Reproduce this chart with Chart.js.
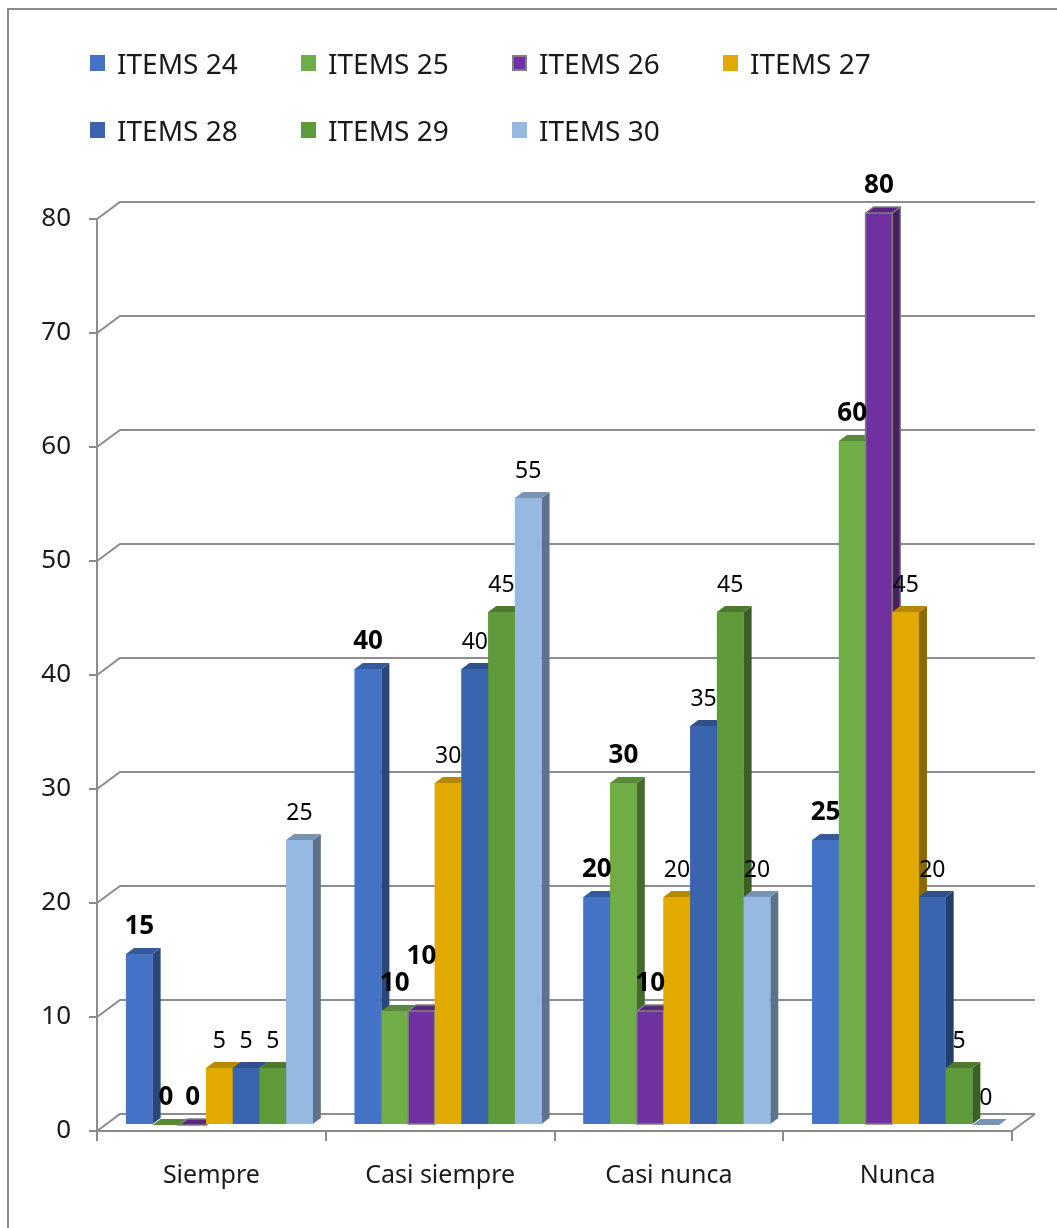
<!DOCTYPE html>
<html>
<head>
<meta charset="utf-8">
<script src="https://cdn.jsdelivr.net/npm/chart.js@4.4.1/dist/chart.umd.min.js"></script>
<style>
    html, body { margin: 0; padding: 0; background: #ffffff; }
    body { width: 1057px; height: 1228px; position: relative; overflow: hidden; font-family: "Noto Sans", sans-serif; }
    #frame { position: absolute; left: 7px; top: 8px; width: 1200px; height: 1400px; border: 2px solid #8c8c8c; box-sizing: border-box; }
    #chart { position: absolute; left: 0; top: 0; }
    #legend { position: absolute; left: 0; top: 0; width: 1057px; height: 180px; }
    .item { position: absolute; display: flex; align-items: center; font-size: 28px; color: #1a1a1a; white-space: nowrap; }
    .swatch { width: 15px; height: 16px; margin-right: 12px; box-sizing: border-box; }
</style>
</head>
<body>
<div id="frame"></div>
<canvas id="chart" width="1057" height="1228"></canvas>
<div id="legend"></div>
<script>
// Data
const categories = ["Siempre", "Casi siempre", "Casi nunca", "Nunca"];
const seriesNames = ["ITEMS 24", "ITEMS 25", "ITEMS 26", "ITEMS 27", "ITEMS 28", "ITEMS 29", "ITEMS 30"];
const items24 = [15, 40, 20, 25];
const items25 = [0, 10, 30, 60];
const items26 = [0, 10, 10, 80];
const items27 = [5, 30, 20, 45];
const items28 = [5, 40, 35, 20];
const items29 = [5, 45, 45, 5];
const items30 = [25, 55, 20, 0];
const yTicks = [0, 10, 20, 30, 40, 50, 60, 70, 80];

const seriesValues = [items24, items25, items26, items27, items28, items29, items30];
const seriesColors = ["#4472C4", "#70AD47", "#7030A0", "#E2AA00", "#3A64AE", "#5F9A3B", "#96B9E1"];
const boldLabels = [true, true, true, false, false, false, false];

// 3D look
const BAR_DX = 8, BAR_DY = 6;     // depth of each bar
const WALL_DX = 23, WALL_DY = 17; // offset of the back wall
const SHIFT_X = 8, SHIFT_Y = 6;   // bars sit a little behind the front plane
const LINE_COLOR = "#8c8c8c";
const FONT = "'Noto Sans', sans-serif";

function shade(hex, f) {
    const n = parseInt(hex.slice(1), 16);
    const r = Math.round(((n >> 16) & 255) * f);
    const g = Math.round(((n >> 8) & 255) * f);
    const b = Math.round((n & 255) * f);
    return `rgb(${r}, ${g}, ${b})`;
}

// HTML legend, four per row like the original
const legendEl = document.getElementById("legend");
seriesNames.forEach((name, i) => {
    const item = document.createElement("div");
    item.className = "item";
    item.style.left = (90 + (i % 4) * 211) + "px";
    item.style.top = (63 + Math.floor(i / 4) * 67 - 18) + "px";
    item.style.height = "36px";
    const sw = document.createElement("span");
    sw.className = "swatch";
    sw.style.background = seriesColors[i];
    if (i === 2) sw.style.border = "2px solid #7f7f7f";
    item.appendChild(sw);
    item.appendChild(document.createTextNode(name));
    legendEl.appendChild(item);
});

const bars3d = {
    id: "bars3d",
    beforeDatasetsDraw(chart) {
        const { ctx, chartArea: a, scales: { y } } = chart;
        // back wall grid with the diagonal joints to the front axis
        ctx.save();
        ctx.strokeStyle = LINE_COLOR;
        ctx.lineWidth = 2;
        yTicks.forEach(v => {
            const py = Math.round(y.getPixelForValue(v));
            ctx.beginPath();
            ctx.moveTo(a.left, py);
            ctx.lineTo(a.left + WALL_DX, py - WALL_DY);
            ctx.lineTo(a.right + WALL_DX, py - WALL_DY);
            ctx.stroke();
        });
        const p0 = Math.round(y.getPixelForValue(0));
        ctx.beginPath();
        ctx.moveTo(a.right, p0);
        ctx.lineTo(a.right + WALL_DX, p0 - WALL_DY);
        ctx.stroke();
        ctx.restore();

        ctx.save();
        ctx.translate(SHIFT_X, -SHIFT_Y);
    },
    afterDatasetsDraw(chart) {
        const ctx = chart.ctx;
        const datasets = chart.data.datasets;
        categories.forEach((cat, i) => {
            datasets.forEach((ds, d) => {
                const bar = chart.getDatasetMeta(d).data[i];
                const { x, y, base, width } = bar.getProps(["x", "y", "base", "width"], true);
                const l = x - width / 2, r = x + width / 2;
                const col = seriesColors[d];
                // side face
                ctx.fillStyle = shade(col, 0.62);
                ctx.beginPath();
                ctx.moveTo(r, y);
                ctx.lineTo(r + BAR_DX, y - BAR_DY);
                ctx.lineTo(r + BAR_DX, base - BAR_DY);
                ctx.lineTo(r, base);
                ctx.closePath();
                ctx.fill();
                // top face
                ctx.fillStyle = shade(col, 0.8);
                ctx.beginPath();
                ctx.moveTo(l, y);
                ctx.lineTo(l + BAR_DX, y - BAR_DY);
                ctx.lineTo(r + BAR_DX, y - BAR_DY);
                ctx.lineTo(r, y);
                ctx.closePath();
                ctx.fill();
                // front face
                ctx.fillStyle = col;
                ctx.fillRect(l, y, r - l, base - y);
                if (d === 2) {
                    ctx.strokeStyle = "#808080";
                    ctx.lineWidth = 1.5;
                    ctx.beginPath();
                    ctx.moveTo(l, y);
                    ctx.lineTo(l + BAR_DX, y - BAR_DY);
                    ctx.lineTo(r + BAR_DX, y - BAR_DY);
                    ctx.lineTo(r + BAR_DX, base - BAR_DY);
                    ctx.lineTo(r, base);
                    ctx.lineTo(l, base);
                    ctx.closePath();
                    ctx.moveTo(r, y);
                    ctx.lineTo(r + BAR_DX, y - BAR_DY);
                    ctx.moveTo(r, y);
                    ctx.lineTo(r, base);
                    ctx.moveTo(l, y);
                    ctx.lineTo(r, y);
                    ctx.stroke();
                }
            });
        });

        // value labels; a label that would overlap the one before it is lifted above it
        ctx.fillStyle = "#000000";
        ctx.textAlign = "center";
        ctx.textBaseline = "alphabetic";
        categories.forEach((cat, i) => {
            const placed = [];
            datasets.forEach((ds, d) => {
                const bold = boldLabels[d];
                ctx.font = (bold ? "bold 26px " : "23px ") + FONT;
                const { x, y } = chart.getDatasetMeta(d).data[i].getProps(["x", "y"], true);
                const text = String(ds.data[i]);
                const w = ctx.measureText(text).width;
                const h = bold ? 19 : 17;
                let baseline = y - BAR_DY - 14;
                placed.forEach(p => {
                    const overlapX = x - w / 2 < p.r && x + w / 2 > p.l;
                    const overlapY = baseline - h < p.b && baseline > p.t;
                    if (overlapX && overlapY) baseline = p.t - 8;
                });
                ctx.fillText(text, x, baseline);
                placed.push({ l: x - w / 2, r: x + w / 2, t: baseline - h, b: baseline });
            });
        });
        ctx.restore();
    }
};

const ctx = document.getElementById("chart").getContext("2d");
new Chart(ctx, {
    type: "bar",
    data: {
        labels: categories,
        datasets: seriesNames.map((name, d) => ({
            label: name,
            data: seriesValues[d],
            backgroundColor: seriesColors[d],
            borderWidth: 0,
            categoryPercentage: 0.817,
            barPercentage: 1.0,
            clip: false
        }))
    },
    options: {
        responsive: false,
        animation: false,
        layout: { padding: { left: 0, right: 45, top: 219, bottom: 0 } },
        plugins: {
            legend: { display: false },
            tooltip: { enabled: false }
        },
        scales: {
            x: {
                offset: true,
                grid: { display: true, drawOnChartArea: false, drawTicks: true, tickLength: 10, offset: true, color: LINE_COLOR, lineWidth: 2 },
                border: { display: true, color: LINE_COLOR, width: 2 },
                ticks: { color: "#1a1a1a", font: { family: FONT, size: 25 }, padding: 20, maxRotation: 0 },
                afterFit(scale) { scale.height = 97; }
            },
            y: {
                min: 0,
                max: 80,
                afterBuildTicks(scale) { scale.ticks = yTicks.map(v => ({ value: v })); },
                grid: { drawOnChartArea: false, drawTicks: true, tickLength: 8, color: LINE_COLOR, lineWidth: 2 },
                border: { display: true, color: LINE_COLOR, width: 2 },
                ticks: { color: "#1a1a1a", font: { family: FONT, size: 26 }, padding: 18 },
                afterFit(scale) { scale.width = 97; }
            }
        }
    },
    plugins: [bars3d]
});
</script>
</body>
</html>
